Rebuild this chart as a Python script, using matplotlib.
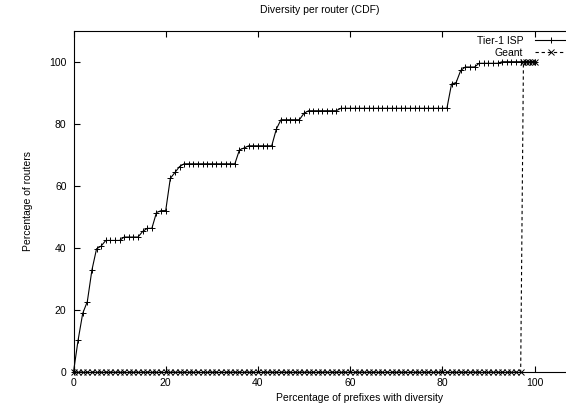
import matplotlib
matplotlib.use("Agg")
import matplotlib.pyplot as plt

plt.rcParams['font.family'] = ['Liberation Sans', 'DejaVu Sans']

title = "Diversity per router (CDF)"
xlabel = "Percentage of prefixes with diversity"
ylabel = "Percentage of routers"
xticks = [0, 20, 40, 60, 80, 100]
yticks = [0, 20, 40, 60, 80, 100]

tier1_x = [0, 1, 2, 3, 4, 5, 6, 7, 8, 9, 10, 11, 12, 13, 14, 15, 16, 17, 18, 19,
           20, 21, 22, 23, 24, 25, 26, 27, 28, 29, 30, 31, 32, 33, 34, 35, 36, 37, 38, 39,
           40, 41, 42, 43, 44, 45, 46, 47, 48, 49, 50, 51, 52, 53, 54, 55, 56, 57, 58, 59,
           60, 61, 62, 63, 64, 65, 66, 67, 68, 69, 70, 71, 72, 73, 74, 75, 76, 77, 78, 79,
           80, 81, 82, 83, 84, 85, 86, 87, 88, 89, 90, 91, 92, 93, 94, 95, 96, 97, 98, 99, 100]
tier1_y = [0, 10.3, 18.9, 22.7, 32.9, 39.7, 40.6, 42.4, 42.4, 42.4, 42.4, 43.5, 43.5, 43.5, 43.5,
           45.3, 46.3, 46.3, 51.4, 52.0, 52.0, 62.4, 64.3, 66.2, 67.1, 67.1, 67.1, 67.1, 67.1, 67.1,
           67.1, 67.1, 67.1, 67.1, 67.1, 67.1, 71.6, 72.2, 72.9, 72.9, 72.9, 72.9, 72.9, 72.9,
           78.3, 81.3, 81.3, 81.3, 81.3, 81.3, 83.4, 84.2, 84.2, 84.2, 84.2, 84.2, 84.2, 84.2,
           85.0, 85.0, 85.0, 85.0, 85.0, 85.0, 85.0, 85.0, 85.0, 85.0, 85.0, 85.0, 85.0, 85.0,
           85.0, 85.0, 85.0, 85.0, 85.0, 85.0, 85.0, 85.0, 85.0, 85.0, 92.8, 93.3, 97.2, 98.3,
           98.3, 98.3, 99.5, 99.5, 99.5, 99.5, 99.5, 100, 100, 100, 100, 100, 100, 100, 100]

geant_x = [0, 1, 2, 3, 4, 5, 6, 7, 8, 9, 10, 11, 12, 13, 14, 15, 16, 17, 18, 19,
           20, 21, 22, 23, 24, 25, 26, 27, 28, 29, 30, 31, 32, 33, 34, 35, 36, 37, 38, 39,
           40, 41, 42, 43, 44, 45, 46, 47, 48, 49, 50, 51, 52, 53, 54, 55, 56, 57, 58, 59,
           60, 61, 62, 63, 64, 65, 66, 67, 68, 69, 70, 71, 72, 73, 74, 75, 76, 77, 78, 79,
           80, 81, 82, 83, 84, 85, 86, 87, 88, 89, 90, 91, 92, 93, 94, 95, 96, 97,
           97.6, 98.2, 98.8, 99.4, 100]
geant_y = [0, 0, 0, 0, 0, 0, 0, 0, 0, 0, 0, 0, 0, 0, 0, 0, 0, 0, 0, 0,
           0, 0, 0, 0, 0, 0, 0, 0, 0, 0, 0, 0, 0, 0, 0, 0, 0, 0, 0, 0,
           0, 0, 0, 0, 0, 0, 0, 0, 0, 0, 0, 0, 0, 0, 0, 0, 0, 0, 0, 0,
           0, 0, 0, 0, 0, 0, 0, 0, 0, 0, 0, 0, 0, 0, 0, 0, 0, 0, 0, 0,
           0, 0, 0, 0, 0, 0, 0, 0, 0, 0, 0, 0, 0, 0, 0, 0, 0, 0,
           100, 100, 100, 100, 100]

W, H = 566, 408
fs = 7.5
fig = plt.figure(figsize=(W / 100, H / 100), dpi=100)
x0_px, y0_px = 73.5, 372.0
px_per_x = 4.61
top_px = 30.7
ax_w = 110 * px_per_x
ax_h = y0_px - top_px
ax = fig.add_axes([x0_px / W, (H - y0_px) / H, ax_w / W, ax_h / H])
ax.set_xlim(0, 110)
ax.set_ylim(0, 110)

ax.plot(tier1_x, tier1_y, color='black', lw=0.8, marker='+', ms=5, mew=0.7,
        label='Tier-1 ISP', clip_on=False)
ax.plot(geant_x, geant_y, color='black', lw=0.8, ls=(0, (3, 2.5)), marker='x', ms=4,
        mew=0.7, label='Geant', clip_on=False)

ax.set_xticks(xticks)
ax.set_yticks(yticks)
ax.tick_params(direction='in', length=4, width=0.8, labelsize=fs, top=True, right=True,
               colors='black')
ax.tick_params(axis='x', pad=4)
ax.tick_params(axis='y', pad=5)
for s in ax.spines.values():
    s.set_linewidth(0.8)

ax.set_xlabel(xlabel, fontsize=fs)
ax.set_ylabel(ylabel, fontsize=fs)
ax.xaxis.label.set_verticalalignment('center')
ax.xaxis.set_label_coords((360 - x0_px) / ax_w, -(398 - y0_px) / ax_h)
ax.yaxis.label.set_verticalalignment('center')
ax.yaxis.set_label_coords(-(x0_px - 28) / ax_w, 0.5)

fig.text(320 / W, 1 - 10 / H, title, ha='center', va='center', fontsize=fs)

leg = ax.legend(loc='upper right', bbox_to_anchor=(568 / W, 1 - 35.5 / H),
                bbox_transform=fig.transFigure, frameon=False, markerfirst=False,
                fontsize=fs, handlelength=3.2, handletextpad=1.1, borderpad=0,
                borderaxespad=0, labelspacing=0.25)

fig.savefig('out.png', dpi=100)
